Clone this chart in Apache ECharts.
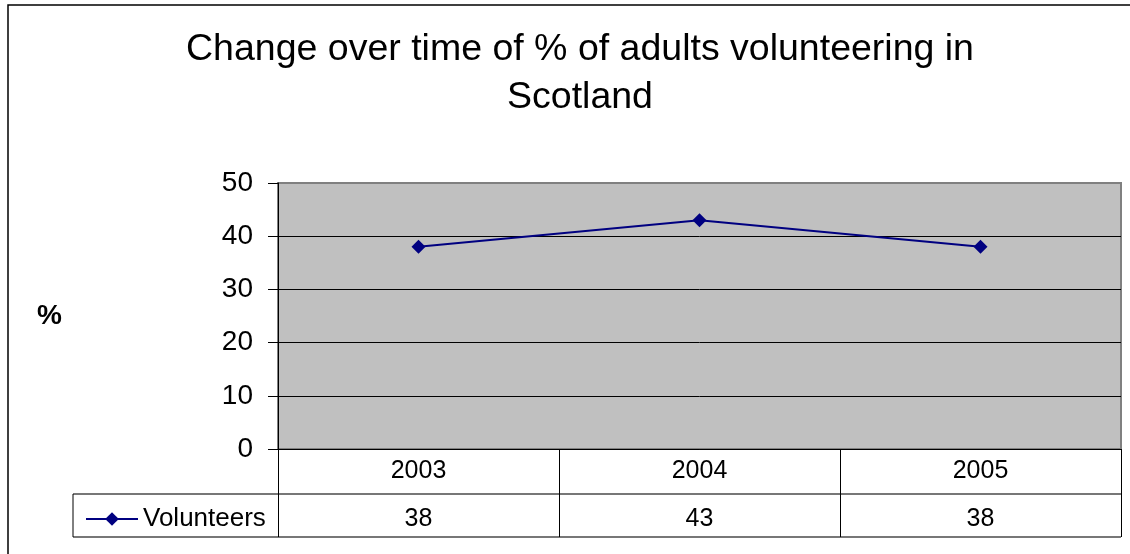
<!DOCTYPE html>
<html>
<head>
<meta charset="utf-8">
<script src="https://cdn.jsdelivr.net/npm/echarts@6/dist/echarts.min.js"></script>
<style>
html,body{margin:0;padding:0;background:#fff;}
#chart{width:1130px;height:554px;}
</style>
</head>
<body>
<div id="chart"></div>
<script>
const titleLines = ['Change over time of % of adults volunteering in', 'Scotland'];
const categories = ['2003', '2004', '2005'];
const seriesName = 'Volunteers';
const values = [38, 43, 38];
const yTicks = [0, 10, 20, 30, 40, 50];

const G = {left: 278, right: 1121, top: 183, bottom: 449, row: 45, row2: 43, legendLeft: 73};
const font = 'Liberation Sans, Arial, sans-serif';

const chart = echarts.init(document.getElementById('chart'), null, {renderer: 'canvas'});
chart.setOption({
  backgroundColor: '#ffffff',
  animation: false,
  title: {
    text: titleLines.join('\n'),
    left: 575, top: 21, textAlign: 'center',
    textStyle: {fontFamily: font, fontSize: 37.5, fontWeight: 'normal', color: '#000', lineHeight: 48}
  },
  legend: {
    data: [seriesName],
    left: 80, top: 501,
    itemWidth: 52, itemHeight: 17, itemGap: 4,
    textStyle: {fontFamily: font, fontSize: 26, color: '#000'}
  },
  grid: {
    left: G.left, right: 1130 - G.right, top: G.top, bottom: 554 - G.bottom,
    show: true, backgroundColor: '#c0c0c0', borderColor: '#808080', borderWidth: 2,
    containLabel: false
  },
  xAxis: [{
    type: 'category', data: categories, boundaryGap: true, position: 'bottom',
    axisLine: {show: true, lineStyle: {color: '#000', width: 1}},
    axisTick: {show: true, interval: 0, length: G.row, lineStyle: {color: '#000'}},
    axisLabel: {interval: 0, margin: 10, fontFamily: font, fontSize: 25, color: '#000'},
    splitLine: {show: false}
  }, {
    type: 'category', data: categories, boundaryGap: true, position: 'bottom', offset: G.row,
    axisLine: {show: true, lineStyle: {color: '#777', width: 2}},
    axisTick: {show: true, interval: 0, length: G.row2, lineStyle: {color: '#000'}},
    axisLabel: {interval: 0, margin: 13, fontFamily: font, fontSize: 25, color: '#000',
      formatter: (v, i) => String(values[i])},
    splitLine: {show: false}
  }],
  yAxis: {
    type: 'value', min: yTicks[0], max: yTicks[yTicks.length - 1], interval: 10,
    name: '%', nameLocation: 'middle', nameRotate: 0, nameGap: 216,
    nameTextStyle: {fontFamily: font, fontSize: 28, fontWeight: 'bold', color: '#000', padding: [10, 0, 0, 0]},
    axisLine: {show: true, lineStyle: {color: '#000', width: 1}},
    axisTick: {show: true, inside: false, length: 10, lineStyle: {color: '#000'}},
    axisLabel: {margin: 25, fontFamily: font, fontSize: 28, color: '#000'},
    splitLine: {show: true, lineStyle: {color: ['#000', '#000', '#000', '#000', '#000', '#808080'], width: 1}}
  },
  series: [{
    name: seriesName, type: 'line', data: values, xAxisIndex: 0,
    symbol: 'diamond', symbolSize: 14,
    lineStyle: {color: '#000080', width: 2},
    itemStyle: {color: '#000080'}
  }],
  graphic: [
    {type: 'rect', shape: {x: 8, y: 5, width: 1200, height: 700}, style: {fill: 'none', stroke: '#000', lineWidth: 1.5}, silent: true},
    {type: 'line', shape: {x1: G.legendLeft, y1: G.bottom + G.row, x2: G.left, y2: G.bottom + G.row}, style: {stroke: '#777', lineWidth: 2}},
    {type: 'line', shape: {x1: G.legendLeft, y1: G.bottom + G.row + G.row2, x2: G.right, y2: G.bottom + G.row + G.row2}, style: {stroke: '#777', lineWidth: 2}},
    {type: 'line', shape: {x1: G.legendLeft, y1: G.bottom + G.row, x2: G.legendLeft, y2: G.bottom + G.row + G.row2}, style: {stroke: '#000', lineWidth: 1}}
  ]
});
</script>
</body>
</html>
